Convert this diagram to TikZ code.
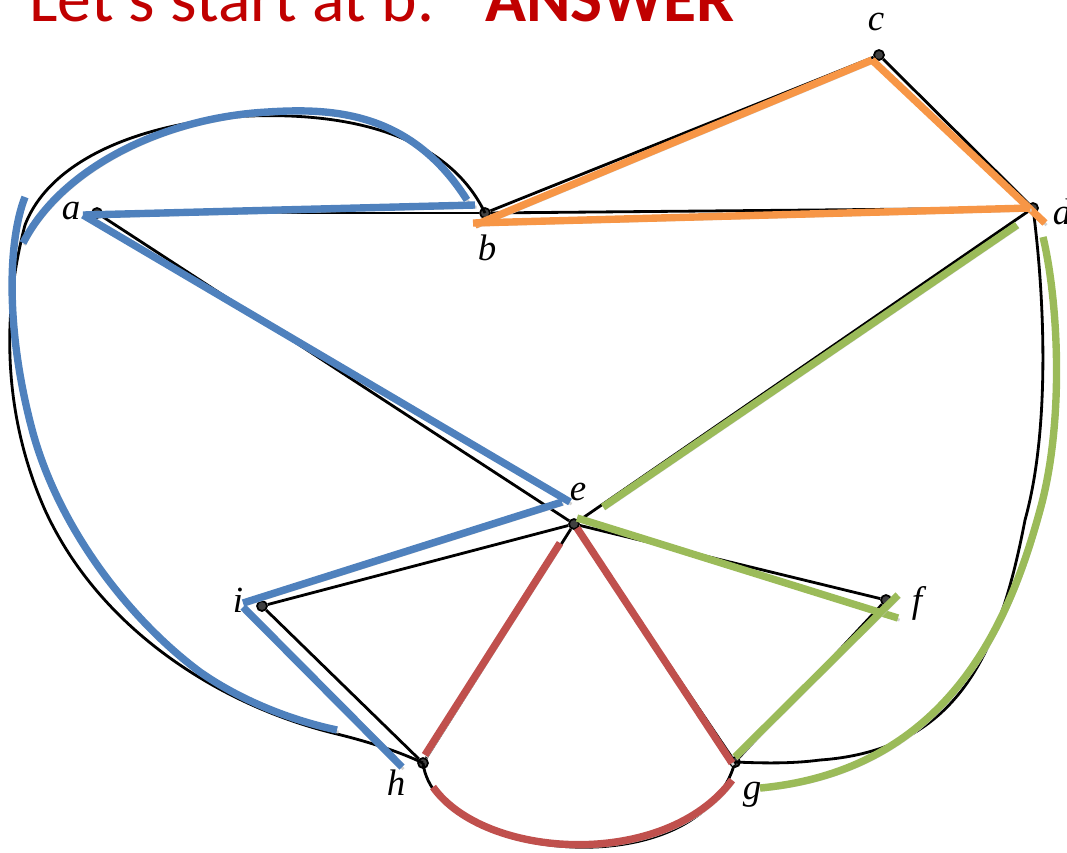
\documentclass[tikz,border=0pt]{standalone}
\usepackage{fontspec}
\usetikzlibrary{positioning}
\newfontfamily\titlefont{Carlito}
\newfontfamily\labelfont{Liberation Serif}
\definecolor{cblue}{HTML}{4F81BD}
\definecolor{corange}{HTML}{F79646}
\definecolor{cgreen}{HTML}{9BBB59}
\definecolor{cred}{HTML}{C0504D}
\definecolor{ctitle}{HTML}{C00000}
\tikzset{
  every picture/.style={line width=1.6pt},
  vertex/.style={circle, draw=black, fill=black!75, line width=1pt, inner sep=0pt, minimum size=2mm},
  vlabel/.style={font=\labelfont\itshape\fontsize{21}{23}\selectfont, inner sep=0pt},
  edge/.style={draw=black, line width=1.6pt},
  walk/.style={draw=#1, line width=4.2pt,
    preaction={draw=black!18, transform canvas={shift={(0.9pt,-1.2pt)}}}},
  walk/.default=cblue,
  title/.style={font=\titlefont\fontsize{38.5}{40}\selectfont, text=ctitle, inner sep=0pt, anchor=base west},
}

\begin{document}
\begin{tikzpicture}[x=0.2mm, y=-0.2mm]
  \useasboundingbox (0,0) rectangle (1067,852);
  \node[title] (head) at (28,21) {Let's start at b.\hspace{0.75em}\textbf{ANSWER}};
  % vertices
  \node[vertex] (a) at (97,213) {};
  \node[vertex] (b) at (485,213) {};
  \node[vertex] (c) at (879,55) {};
  \node[vertex] (d) at (1033,208) {};
  \node[vertex] (e) at (574,524) {};
  \node[vertex] (f) at (886,600) {};
  \node[vertex] (g) at (735,762) {};
  \node[vertex] (h) at (423,763) {};
  \node[vertex] (i) at (262,606) {};
  % black edges
  \draw[edge] (a) -- (b);
  \draw[edge] (a) -- (e);
  \draw[edge] (b) -- (c);
  \draw[edge] (b) -- (d);
  \draw[edge] (c) -- (d);
  \draw[edge] (d) -- (e);
  \draw[edge] (e) -- (i);
  \draw[edge] (e) -- (f);
  \draw[edge] (e) -- (h);
  \draw[edge] (e) -- (g);
  \draw[edge] (i) -- (h);
  \draw[edge] (f) -- (g);
  \draw[edge] (b.center) .. controls (450,140) and (360,112) .. (250,116)
    .. controls (140,122) and (50,160) .. (25,225)
    .. controls (0,320) and (5,420) .. (45,510)
    .. controls (100,630) and (220,705) .. (333,733)
    .. controls (370,742) and (400,752) .. (h.center);
  \draw[edge] (d.center) .. controls (1045,300) and (1050,430) .. (1025,520)
    .. controls (1000,650) and (960,750) .. (820,760)
    .. controls (790,764) and (760,763) .. (g.center);
  \draw[edge] (h.center) .. controls (435,860) and (700,890) .. (g.center);
  % blue part of the walk
  \draw[walk=cblue] ([shift={(-18,-13)}]b.center) .. controls (410,110) and (330,108) .. (267,112)
    .. controls (160,118) and (60,170) .. ([shift={(-74,30)}]a.center);
  \draw[walk=cblue] ([shift={(-72,-16)}]a.center) .. controls (8,240) and (5,330) .. (33,433)
    .. controls (60,530) and (130,620) .. (200,672)
    .. controls (240,700) and (290,720) .. ([shift={(-86,-33)}]h.center);
  \draw[walk=cblue] ([shift={(-14,2)}]a.center) -- ([shift={(-10,-8)}]b.center);
  \draw[walk=cblue] ([shift={(-14,2)}]a.center) -- ([shift={(-4,-22)}]e.center);
  \draw[walk=cblue] ([shift={(-12,-22)}]e.center) -- ([shift={(-19,-3)}]i.center);
  \draw[walk=cblue] ([shift={(-19,1)}]i.center) -- ([shift={(-21,4)}]h.center);
  % orange part
  \draw[walk=corange] ([shift={(-10,12)}]b.center) -- ([shift={(-7,5)}]c.center);
  \draw[walk=corange] ([shift={(-7,5)}]c.center) -- ([shift={(12,15)}]d.center);
  \draw[walk=corange] ([shift={(-3,0)}]d.center) -- ([shift={(-12,10)}]b.center);
  % green part
  \draw[walk=cgreen] ([shift={(-16,17)}]d.center) -- ([shift={(29,-17)}]e.center);
  \draw[walk=cgreen] ([shift={(3,-6)}]e.center) -- ([shift={(12,18)}]f.center);
  \draw[walk=cgreen] ([shift={(12,-5)}]f.center) -- ([shift={(0,-5)}]g.center);
  \draw[walk=cgreen] ([shift={(10,29)}]d.center) .. controls (1058,300) and (1065,420) .. (1040,510)
    .. controls (1010,620) and (950,770) .. ([shift={(25,26)}]g.center);
  % red part
  \draw[walk=cred] ([shift={(-14,19)}]e.center) -- ([shift={(2,-8)}]h.center);
  \draw[walk=cred] ([shift={(3,4)}]e.center) -- ([shift={(-3,1)}]g.center);
  \draw[walk=cred] ([shift={(10,24)}]h.center) .. controls (485,860) and (665,870) .. ([shift={(-3,18)}]g.center);
  % labels
  \node[vlabel] (la) at ([shift={(-26,-2)}]a) {a};
  \node[vlabel] (lb) at ([shift={(2,35)}]b) {b};
  \node[vlabel] (lc) at ([shift={(-3,-33)}]c) {c};
  \node[vlabel] (ld) at ([shift={(29,4)}]d) {d};
  \node[vlabel] (le) at ([shift={(4,-32)}]e) {e};
  \node[vlabel] (lf) at ([shift={(31,3)}]f) {f};
  \node[vlabel] (lg) at ([shift={(17,33)}]g) {g};
  \node[vlabel] (lh) at ([shift={(-27,20)}]h) {h};
  \node[vlabel] (li) at ([shift={(-24,-6)}]i) {i};
\end{tikzpicture}
\end{document}
